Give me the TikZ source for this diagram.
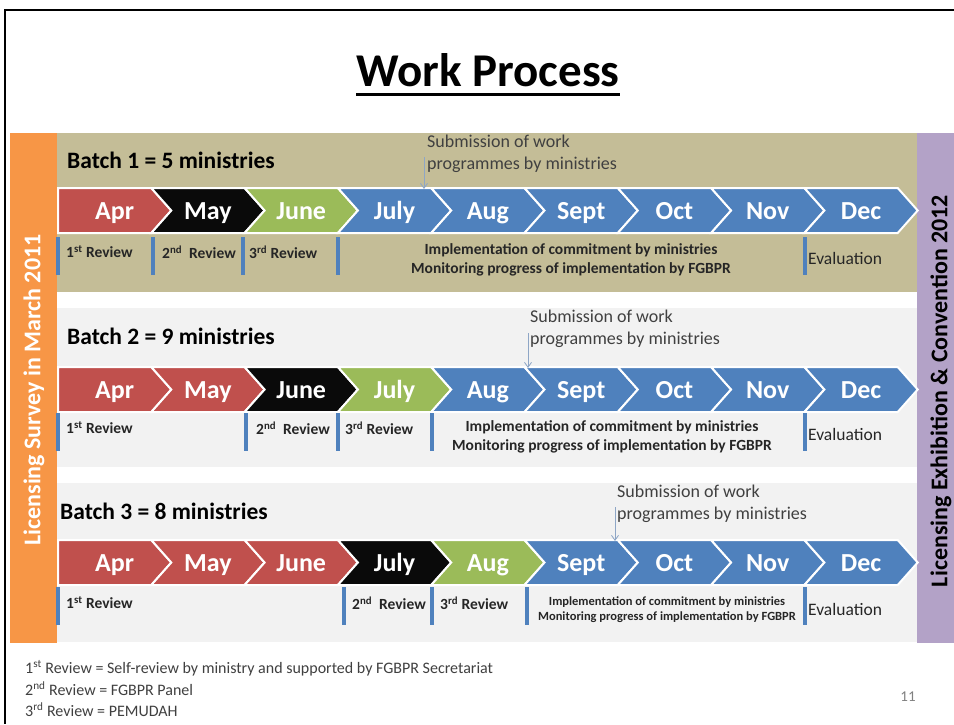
\documentclass[tikz,border=0pt]{standalone}
\usepackage{fontspec}
\setmainfont{Carlito}
\usetikzlibrary{arrows.meta}
\definecolor{cred}{HTML}{C0504D}
\definecolor{cblack}{HTML}{0A0A0A}
\definecolor{cgreen}{HTML}{9BBB59}
\definecolor{cblue}{HTML}{4F81BD}
\definecolor{corange}{HTML}{F79646}
\definecolor{cpurple}{HTML}{B3A2C7}
\definecolor{ctan}{HTML}{C4BD97}
\definecolor{cgray}{HTML}{F2F2F2}
\definecolor{ctext}{HTML}{262626}
\definecolor{csub}{HTML}{404040}
\definecolor{carrow}{HTML}{8EA6C6}
\newcommand\chevrow[3]{%
 \foreach \m/\c [count=\i from 0] in {#2} {
   \pgfmathsetmacro\L{58+\i*93.3}
   \pgfmathsetmacro\R{\L+93.3}
   \pgfmathsetmacro\Mid{#1+22.5}
   \pgfmathsetmacro\B{#1+45}
   \ifnum\i=0
     \filldraw[chev, fill=\c] (\L,#1) -- (\R,#1) -- (\R+20,\Mid) -- (\R,\B) -- (\L,\B) -- cycle;
   \else
     \filldraw[chev, fill=\c] (\L,#1) -- (\R,#1) -- (\R+20,\Mid) -- (\R,\B) -- (\L,\B) -- (\L+20,\Mid) -- cycle;
   \fi
   \node[month] (#3\i) at (\L/2+\R/2+10,\Mid+8.5) {\m};
 }}
\begin{document}
\begin{tikzpicture}[x=1pt,y=-1pt,
  chev/.style={draw=white, line width=2pt, line join=miter},
  month/.style={anchor=base, text=white, font=\fontsize{26}{30}\selectfont\bfseries, inner sep=0pt},
  batch/.style={anchor=west, inner sep=0pt, font=\fontsize{23.5}{28}\selectfont\bfseries, text=black},
  sub/.style={anchor=west, inner sep=0pt, align=left, text=csub, font=\fontsize{18}{21.5}\selectfont},
  subarrow/.style={draw=carrow, line width=0.8pt, -{Straight Barb[length=5pt,width=7pt]}},
  rbar/.style={draw=cblue, line width=3.5pt},
  rev/.style={anchor=west, inner sep=0pt, text=ctext, font=\fontsize{15.5}{18}\selectfont\bfseries},
  impl/.style={inner sep=0pt, align=center, text=ctext, font=\fontsize{15.5}{18.5}\selectfont\bfseries},
  evalt/.style={anchor=west, inner sep=0pt, text=ctext, font=\fontsize{17.5}{20}\selectfont},
  legend/.style={anchor=west, inner sep=0pt, text=csub, font=\fontsize{16}{19}\selectfont},
  sidetxt/.style={rotate=90, inner sep=0pt, font=\fontsize{24}{28}\selectfont\bfseries}
]
\useasboundingbox (0,0) rectangle (954,724);
\fill[white] (0,0) rectangle (954,724);
% frame
\draw[line width=2.5pt] (954,10) -- (5,10) -- (5,724);
% title
\node[inner sep=0pt, font=\fontsize{47}{50}\selectfont\bfseries] (title) at (488,70) {Work Process};
\draw[line width=3pt] ([yshift=-8pt]title.base west) -- ([yshift=-8pt]title.base east);
% side bars and panels
\fill[corange] (10,133) rectangle (57,643);
\fill[cpurple] (917,133) rectangle (954,643);
\fill[ctan] (57,133) rectangle (917,292);
\fill[cgray] (57,308) rectangle (917,467);
\fill[cgray] (57,483) rectangle (917,642);
\node[sidetxt, text=white] (lsurvey) at (34,390) {Licensing Survey in March 2011};
\node[sidetxt, text=black] (lexhib) at (941,391) {Licensing Exhibition \& Convention 2012};

% ---------- Batch 1 ----------
\node[batch] (b1) at (67,160) {Batch 1 = 5 ministries};
\node[sub] (s1) at (427,154) {Submission of work\\programmes by ministries};
\chevrow{188}{Apr/cred,May/cblack,June/cgreen,July/cblue,Aug/cblue,Sept/cblue,Oct/cblue,Nov/cblue,Dec/cblue}{a}
\coordinate (s1a) at (424,157);
\coordinate (s1b) at (424,189);
\draw[subarrow] (s1a) -- (s1b);
\foreach \x in {58,153,243,338,805} \draw[rbar] (\x,237) -- (\x,275);
\node[rev] (r11) at (66,252) {1\textsuperscript{st} Review};
\node[rev] (r12) at (162,252) {2\textsuperscript{nd}\hspace{0.45em}Review};
\node[rev] (r13) at (249,252) {3\textsuperscript{rd} Review};
\node[impl] (i1) at (571,260) {Implementation of commitment by ministries\\Monitoring progress of implementation by FGBPR};
\node[evalt] (e1) at (808,258) {Evaluation};

% ---------- Batch 2 ----------
\node[batch] (b2) at (67,336) {Batch 2 = 9 ministries};
\node[sub] (s2) at (530,329) {Submission of work\\programmes by ministries};
\chevrow{367}{Apr/cred,May/cred,June/cblack,July/cgreen,Aug/cblue,Sept/cblue,Oct/cblue,Nov/cblue,Dec/cblue}{b}
\coordinate (s2a) at (528,333);
\coordinate (s2b) at (528,368);
\draw[subarrow] (s2a) -- (s2b);
\foreach \x in {58,246,338,432,805} \draw[rbar] (\x,413) -- (\x,451);
\node[rev] (r21) at (66,428) {1\textsuperscript{st} Review};
\node[rev] (r22) at (256,428) {2\textsuperscript{nd}\hspace{0.45em}Review};
\node[rev] (r23) at (345,428) {3\textsuperscript{rd} Review};
\node[impl] (i2) at (612,437) {Implementation of commitment by ministries\\Monitoring progress of implementation by FGBPR};
\node[evalt] (e2) at (808,434) {Evaluation};

% ---------- Batch 3 ----------
\node[batch] (b3) at (60,511) {Batch 3 = 8 ministries};
\node[sub] (s3) at (617,504) {Submission of work\\programmes by ministries};
\chevrow{540}{Apr/cred,May/cred,June/cred,July/cblack,Aug/cgreen,Sept/cblue,Oct/cblue,Nov/cblue,Dec/cblue}{c}
\coordinate (s3a) at (615,507);
\coordinate (s3b) at (615,541);
\draw[subarrow] (s3a) -- (s3b);
\foreach \x in {58,344,432,527,805} \draw[rbar] (\x,587) -- (\x,625);
\node[rev] (r31) at (66,603) {1\textsuperscript{st} Review};
\node[rev] (r32) at (352,603) {2\textsuperscript{nd}\hspace{0.45em}Review};
\node[rev] (r33) at (440,603) {3\textsuperscript{rd} Review};
\node[impl, font=\fontsize{12.5}{15}\selectfont\bfseries] (i3) at (667,610) {Implementation of commitment by ministries\\Monitoring progress of implementation by FGBPR};
\node[evalt] (e3) at (808,609) {Evaluation};

% legend
\node[legend] (l1) at (25,668) {1\textsuperscript{st} Review = Self-review by ministry and supported by FGBPR Secretariat};
\node[legend] (l2) at (25,689) {2\textsuperscript{nd} Review = FGBPR Panel};
\node[legend] (l3) at (25,710) {3\textsuperscript{rd} Review = PEMUDAH};
\node[inner sep=0pt, text=gray, font=\fontsize{15}{18}\selectfont] (pg) at (908,697) {11};
\end{tikzpicture}
\end{document}
